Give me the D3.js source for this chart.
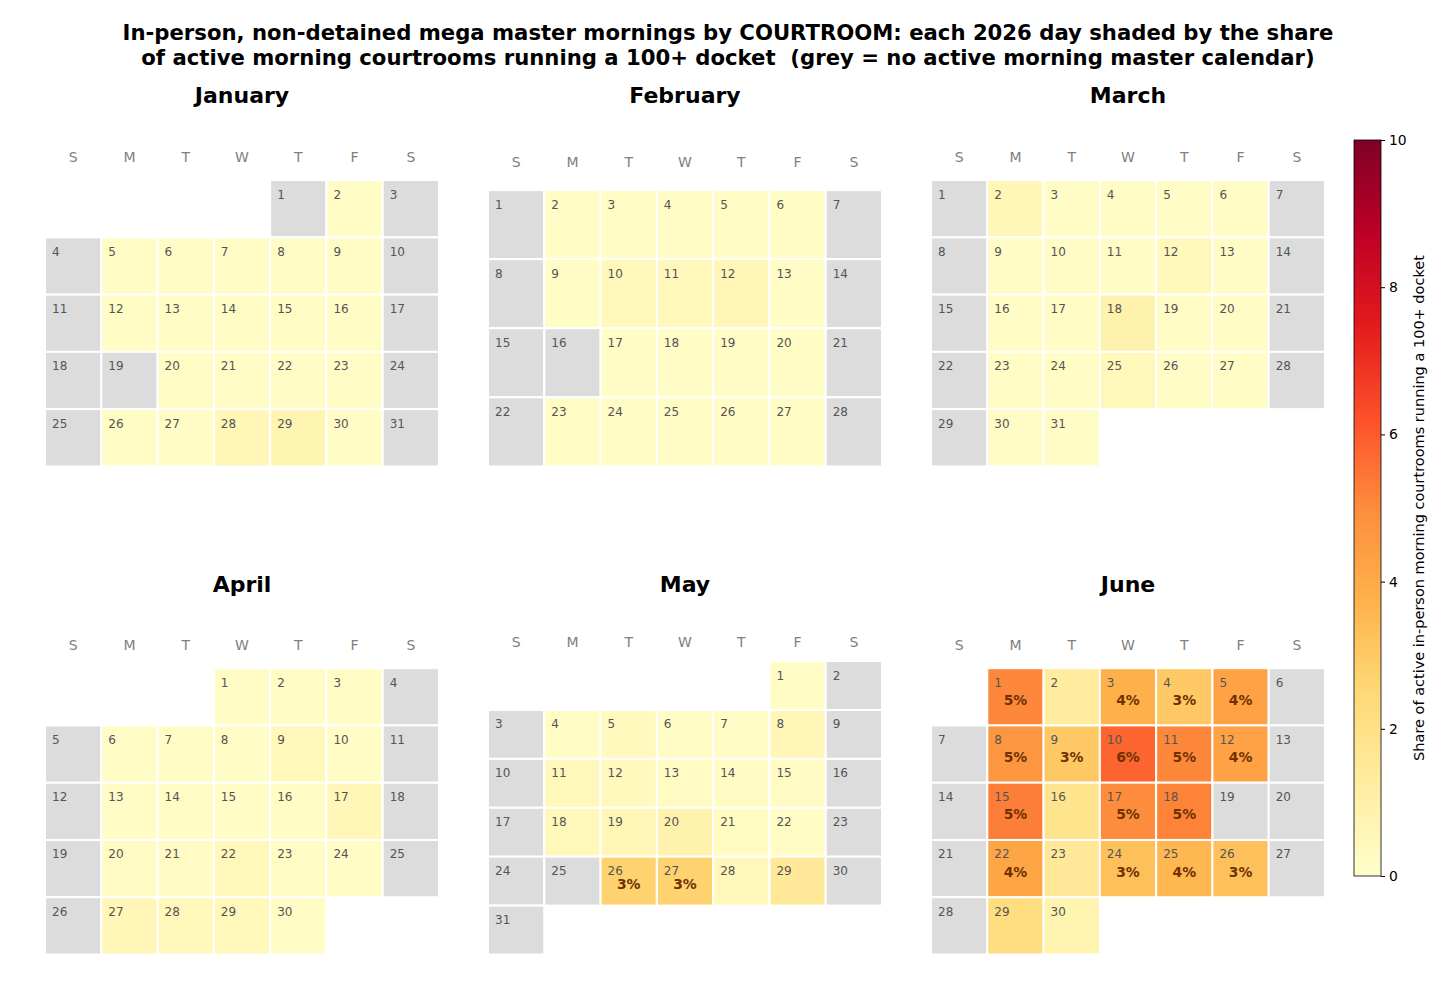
<!DOCTYPE html>
<html>
<head>
<meta charset="utf-8">
<script src="https://cdn.jsdelivr.net/npm/d3@7"></script>
<style>
  body{margin:0;background:#fff;}
  svg{display:block;font-family:"DejaVu Sans",sans-serif;}
  .pre{white-space:pre;}
</style>
</head>
<body>
<div id="chart"></div>
<script>
// share (%) of active morning courtrooms running a 100+ docket; null = no active calendar (grey)
const MONTHS = ['January','February','March','April','May','June'];
const WEEKDAYS = ['S','M','T','W','T','F','S'];
const JAN = [null,0.2,null,null,0.2,0.2,0.2,0.2,0.2,null,null,0.2,0.2,0.2,0.2,0.2,null,null,null,0.2,0.2,0.2,0.2,null,null,0.2,0.2,0.6,0.7,0.2,null];
const FEB = [null,0.2,0.2,0.2,0.2,0.2,null,null,0.2,0.5,0.5,0.6,0.2,null,null,null,0.2,0.2,0.2,0.2,null,null,0.2,0.2,0.2,0.2,0.2,null];
const MAR = [null,0.6,0.2,0.2,0.2,0.2,null,null,0.2,0.2,0.2,0.5,0.2,null,null,0.2,0.2,0.9,0.2,0.2,null,null,0.2,0.2,0.5,0.2,0.2,null,null,0.2,0.2];
const APR = [0.2,0.2,0.2,null,null,0.2,0.2,0.2,0.5,0.2,null,null,0.2,0.2,0.2,0.2,0.6,null,null,0.25,0.25,0.5,0.2,0.2,null,null,0.6,0.5,0.5,0.2];
const MAY = [0.2,null,null,0.2,0.4,0.2,0.2,0.6,null,null,0.5,0.4,0.25,0.25,0.25,null,null,0.5,0.6,0.9,0.3,0.2,null,null,null,2.7,2.7,0.5,1.5,null,null];
const JUN = [5.1,1.3,3.8,3.0,4.3,null,null,4.7,3.0,5.8,5.1,4.3,null,null,5.3,1.8,5.0,5.2,null,null,null,4.2,1.5,3.3,3.6,3.3,null,null,2.2,0.8];
const SERIES = [JAN,FEB,MAR,APR,MAY,JUN];
const CB_TICKS = [0,2,4,6,8,10];
const YLORRD = ['#ffffcc','#ffeda0','#fed976','#feb24c','#fd8d3c','#fc4e2a','#e31a1c','#bd0026','#800026'];

const W=1456, H=996;
const svg=d3.select('#chart').append('svg').attr('width',W).attr('height',H);

const color=d3.scaleLinear()
  .domain(YLORRD.map((_,i)=>i*10/(YLORRD.length-1)))
  .range(YLORRD).clamp(true);

// title
svg.append('text').attr('class','pre').attr('x',728).attr('y',40).attr('text-anchor','middle')
  .attr('font-size','21.2px').attr('font-weight','bold')
  .text('In-person, non-detained mega master mornings by COURTROOM: each 2026 day shaded by the share');
svg.append('text').attr('class','pre').attr('x',728).attr('y',65).attr('text-anchor','middle')
  .attr('font-size','21.2px').attr('font-weight','bold')
  .text('of active morning courtrooms running a 100+ docket  (grey = no active morning master calendar)');

const PX=[45,488,931], PY=[131.4,619.5], PW=394, PH=335, HEAD=0.85;

MONTHS.forEach((name,mi)=>{
  const vals=SERIES[mi];
  const x0=PX[mi%3], top=PY[Math.floor(mi/3)];
  const first=new Date(2026,mi,1);
  const days=vals.map((v,i)=>{
    const d=new Date(2026,mi,i+1);
    return {day:i+1, v, col:d.getDay(), row:d3.timeWeek.count(first,d)};
  });
  const nRows=d3.max(days,d=>d.row)+1;
  const x=d3.scaleBand().domain(d3.range(7)).range([x0,x0+PW]);
  const y=d3.scaleLinear().domain([-HEAD,nRows]).range([top,top+PH]);
  const g=svg.append('g');

  g.append('text').attr('x',x0+PW/2).attr('y',top-28).attr('text-anchor','middle')
    .attr('font-size','22px').attr('font-weight','bold').attr('fill','#000').text(name);

  g.selectAll('.wd').data(WEEKDAYS).join('text')
    .attr('x',(_,i)=>x(i)+x.bandwidth()/2).attr('y',y(-0.4))
    .attr('text-anchor','middle').attr('dominant-baseline','central')
    .attr('font-size','14px').attr('fill','#808080').text(d=>d);

  const cell=g.selectAll('.cell').data(days).join('g');
  cell.append('rect')
    .attr('x',d=>x(d.col)).attr('y',d=>y(d.row))
    .attr('width',x.bandwidth()).attr('height',d=>y(d.row+1)-y(d.row))
    .attr('fill',d=>d.v==null?'#dcdcdc':color(d.v))
    .attr('stroke','#fff').attr('stroke-width',2);
  cell.append('text')
    .attr('x',d=>x(d.col)+7).attr('y',d=>y(d.row)+18.5)
    .attr('font-size','12px').attr('fill','#555').text(d=>d.day);
  cell.filter(d=>d.v!=null&&d.v>=2.5).append('text')
    .attr('x',d=>x(d.col)+x.bandwidth()/2).attr('y',d=>y(d.row+0.5)+3)
    .attr('text-anchor','middle').attr('dominant-baseline','central')
    .attr('font-size','13.9px').attr('font-weight','bold').attr('fill','#6e3200')
    .text(d=>Math.round(d.v)+'%');
});

// colorbar
const cbX=1354, cbW=27, cbTop=140, cbBot=876;
const cy=d3.scaleLinear().domain([0,10]).range([cbBot,cbTop]);
const defs=svg.append('defs');
const grad=defs.append('linearGradient').attr('id','cbg')
  .attr('x1',0).attr('y1',1).attr('x2',0).attr('y2',0);
YLORRD.forEach((c,i)=>grad.append('stop').attr('offset',i/(YLORRD.length-1)).attr('stop-color',c));
svg.append('rect').attr('x',cbX).attr('y',cbTop).attr('width',cbW).attr('height',cbBot-cbTop)
  .attr('fill','url(#cbg)').attr('stroke','#000').attr('stroke-width',0.8);
const ax=svg.append('g').attr('transform',`translate(${cbX+cbW},0)`)
  .call(d3.axisRight(cy).tickValues(CB_TICKS).tickSize(4).tickPadding(4));
ax.select('.domain').remove();
ax.selectAll('text').attr('font-size','13.9px').attr('font-family','DejaVu Sans').attr('fill','#000');
svg.append('text').attr('transform',`translate(1424,${(cbTop+cbBot)/2}) rotate(-90)`)
  .attr('text-anchor','middle').attr('font-size','14.5px').attr('fill','#000')
  .text('Share of active in-person morning courtrooms running a 100+ docket');
</script>
</body>
</html>
